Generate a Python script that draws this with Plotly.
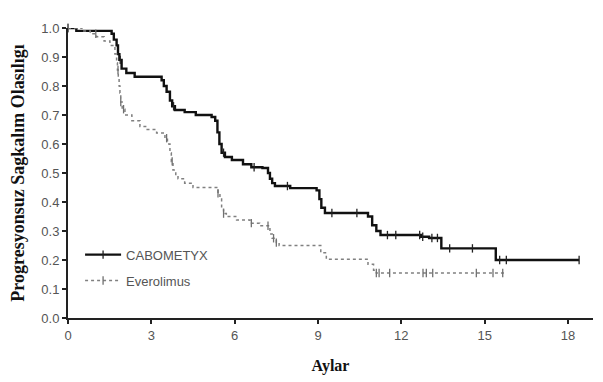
import numpy as np
import plotly.graph_objects as go

# ---- data ----
cabo_t = [0, 0.3, 1.57, 1.65, 1.75, 1.8, 1.85, 1.93, 2.1, 2.4, 3.37, 3.45, 3.55, 3.67, 3.75, 3.85,
          4.2, 4.6, 5.17, 5.3, 5.38, 5.45, 5.53, 5.65, 5.9, 6.3, 6.6, 7.0, 7.2, 7.27, 7.35, 7.45,
          8.0, 8.95, 9.05, 9.12, 9.25, 10.8, 10.95, 11.1, 11.25, 12.7, 13.0, 13.44, 15.4, 18.4]
cabo_s = [1.0, 0.99, 0.98, 0.96, 0.94, 0.91, 0.89, 0.86, 0.845, 0.832, 0.82, 0.80, 0.78, 0.75, 0.73, 0.717,
          0.71, 0.70, 0.693, 0.68, 0.64, 0.60, 0.57, 0.555, 0.545, 0.53, 0.52, 0.517, 0.50, 0.48, 0.465, 0.455,
          0.448, 0.44, 0.41, 0.38, 0.362, 0.35, 0.32, 0.30, 0.286, 0.28, 0.276, 0.24, 0.20, 0.20]
cabo_cens = [0.0, 1.88, 3.8, 5.6, 6.7, 7.9, 9.5, 10.4, 11.5, 11.8, 12.66, 12.77, 13.1, 13.3,
             13.74, 14.56, 15.54, 15.78, 18.4]

evero_t = [0, 0.5, 0.8, 1.03, 1.3, 1.51, 1.69, 1.75, 1.78, 1.81, 1.84, 1.87, 1.9, 1.95, 2.05, 2.3,
           2.59, 2.85, 3.19, 3.49, 3.58, 3.67, 3.72, 3.78, 3.88, 3.96, 4.2, 4.5, 5.4, 5.47, 5.53, 5.6,
           5.7, 6.07, 6.55, 6.9, 7.27, 7.35, 7.5, 7.6, 9.1, 9.3, 10.8, 11.0, 11.1, 15.8]
evero_s = [1.0, 0.99, 0.98, 0.97, 0.955, 0.94, 0.91, 0.88, 0.855, 0.83, 0.80, 0.776, 0.745, 0.72, 0.70, 0.68,
           0.66, 0.65, 0.638, 0.62, 0.60, 0.57, 0.54, 0.51, 0.49, 0.48, 0.465, 0.45, 0.43, 0.41, 0.38, 0.36,
           0.35, 0.338, 0.327, 0.318, 0.29, 0.275, 0.26, 0.25, 0.225, 0.203, 0.185, 0.165, 0.155, 0.155]
evero_cens = [0.0, 1.0, 1.8, 1.9, 2.0, 3.55, 3.75, 5.4, 5.6, 6.6, 7.2, 7.4, 7.5, 11.1, 11.2, 11.58,
              12.78, 12.9, 13.13, 14.7, 15.3, 15.65]

x_ticks = [0, 3, 6, 9, 12, 15, 18]
y_ticks = [0.0, 0.1, 0.2, 0.3, 0.4, 0.5, 0.6, 0.7, 0.8, 0.9, 1.0]

series_names = ["CABOMETYX", "Everolimus"]


def step_at(times, surv, pts):
    t = np.asarray(times)
    s = np.asarray(surv)
    idx = np.searchsorted(t, np.asarray(pts), side="right") - 1
    idx = np.clip(idx, 0, len(s) - 1)
    return s[idx]


fig = go.Figure()

styles = [
    dict(color="#111111", width=2.4, dash="solid", mcolor="#222222"),
    dict(color="#808080", width=1.5, dash="dot", mcolor="#707070"),
]
data = [(cabo_t, cabo_s, cabo_cens), (evero_t, evero_s, evero_cens)]

for name, (t, s, c), st in zip(series_names, data, styles):
    fig.add_trace(go.Scatter(
        x=t, y=s, mode="lines", line_shape="hv",
        line=dict(color=st["color"], width=st["width"], dash=st["dash"]),
        showlegend=False, hoverinfo="skip", cliponaxis=False, legendgroup=name,
    ))
    fig.add_trace(go.Scatter(
        x=c, y=step_at(t, s, c), mode="markers",
        marker=dict(symbol="line-ns", size=6, line=dict(color=st["mcolor"], width=1.3)),
        showlegend=False, hoverinfo="skip", cliponaxis=False, legendgroup=name,
    ))
    # legend entry
    fig.add_trace(go.Scatter(
        x=[None], y=[None], mode="lines+markers", name=name, legendgroup=name,
        line=dict(color=st["color"], width=st["width"], dash=st["dash"]),
        marker=dict(symbol="line-ns", size=6, line=dict(color=st["mcolor"], width=1.3)),
    ))

# page body has an 8px default margin, so the figure is sized to fit the 603x382 window
fig.update_layout(
    width=595, height=374,
    margin=dict(l=60, r=10, t=20, b=64),
    paper_bgcolor="white", plot_bgcolor="white",
    showlegend=True,
    legend=dict(x=0.023, y=0.27, xanchor="left", yanchor="top",
                bgcolor="rgba(0,0,0,0)",
                font=dict(family="Liberation Sans", size=13, color="#555555"),
                itemwidth=36, tracegroupgap=6),
)
fig.update_xaxes(
    range=[0, 18.9], tickvals=x_ticks, ticktext=[str(v) for v in x_ticks],
    showgrid=False, zeroline=False, showline=True, linecolor="#222222", linewidth=2,
    ticks="outside", ticklen=4, tickwidth=2, tickcolor="#222222", automargin=False,
    tickfont=dict(family="Liberation Sans", size=13, color="#555555"),
    title=dict(text="<b>Aylar</b>", font=dict(family="Liberation Serif", size=16, color="#111111"), standoff=18),
)
fig.update_yaxes(
    range=[0, 1.0], tickvals=y_ticks, ticktext=[f"{v:.1f}" for v in y_ticks],
    showgrid=False, zeroline=False, showline=True, linecolor="#222222", linewidth=2,
    ticks="outside", ticklen=4, tickwidth=2, tickcolor="#222222", automargin=False,
    tickfont=dict(family="Liberation Sans", size=13, color="#555555"),
    title=dict(text="<b>Progresyonsuz Sagkalım Olasılıgı</b>",
               font=dict(family="Liberation Serif", size=18, color="#111111"), standoff=14),
)

fig.write_html("out.html")
